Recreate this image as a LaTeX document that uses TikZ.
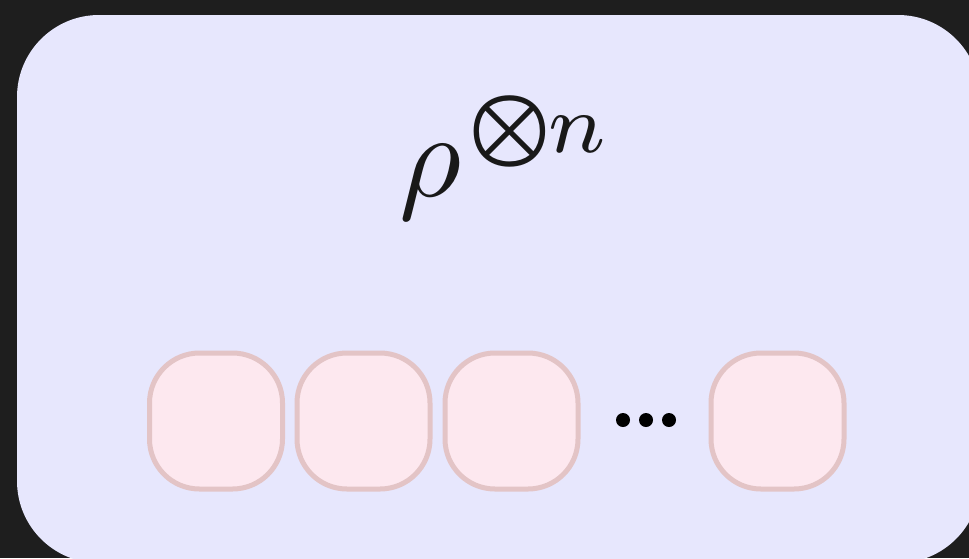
\documentclass[tikz,border=0pt]{standalone}
\usepackage{amsmath}
\usepackage{graphicx}
\definecolor{darkbg}{HTML}{1E1E1E}
\definecolor{lav}{HTML}{E7E7FD}
\definecolor{pinkfill}{HTML}{FDE8EF}
\definecolor{pinkline}{HTML}{E3C4C6}
\tikzset{
  qbox/.style={draw=pinkline, fill=pinkfill, line width=5pt, rounded corners=50pt,
    minimum width=133pt, minimum height=136pt, inner sep=0pt},
  dotmark/.style={circle, fill=black, inner sep=0pt, minimum size=14pt}
}
\begin{document}
\begin{tikzpicture}[x=1pt,y=-1pt]
\useasboundingbox (0,0) rectangle (969,558);
\clip (0,0) rectangle (969,558);
\fill[darkbg] (0,0) rectangle (969,558);
\fill[lav, rounded corners=82pt] (17,15) rectangle (980,563);
\node[anchor=base, inner sep=0pt, text=black!90] (rho) at (506,196)
  {\scalebox{12}{$\rho^{\mkern1.2mu\boldsymbol{\otimes}\mkern-1mu n}$}};
\node[qbox] (q1) at (216,421) {};
\node[qbox] (q2) at (363.5,421) {};
\node[qbox] (q3) at (511.5,421) {};
\node[qbox] (q4) at (777.5,421) {};
\node[dotmark] (d1) at (623,420) {};
\node[dotmark] (d2) at (646,420) {};
\node[dotmark] (d3) at (669,420) {};
\end{tikzpicture}
\end{document}
